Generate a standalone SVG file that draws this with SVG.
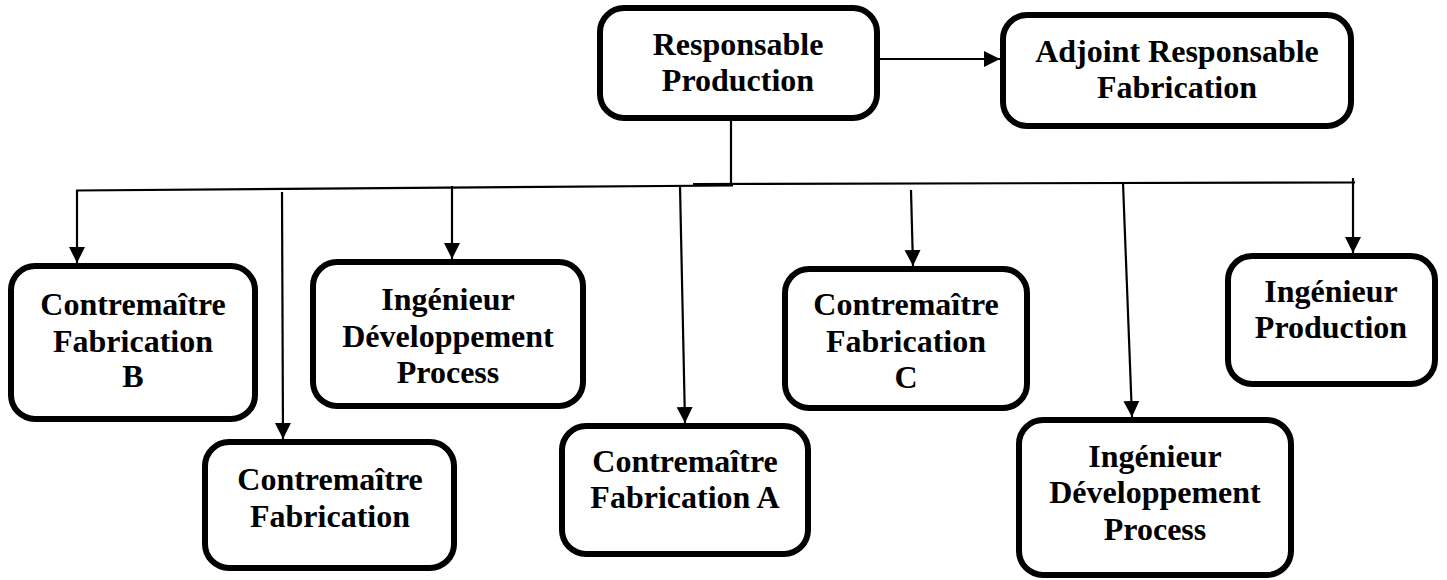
<svg xmlns="http://www.w3.org/2000/svg" width="1447" height="580" viewBox="0 0 1447 580">
  <style>
    .box { fill: #ffffff; stroke: #000000; stroke-width: 6; }
    .lbl { font-family: "Liberation Serif", "Times New Roman", serif; font-weight: bold; font-size: 32px; fill: #000000; text-anchor: middle; }
    .wire { fill: none; stroke: #000000; stroke-width: 2.2; }
    .arrow { fill: none; stroke: #000000; stroke-width: 2.2; marker-end: url(#head); }
  </style>
  <defs>
    <marker id="head" markerUnits="userSpaceOnUse" markerWidth="18" markerHeight="18" viewBox="0 0 18 18" refX="16" refY="9" orient="auto">
      <path d="M0,1 L16,9 L0,17 Z" fill="#000000"/>
    </marker>
  </defs>

  <rect width="1447" height="580" fill="#ffffff"/>

  <!-- connectors -->
  <g id="connectors">
    <line class="wire" x1="731" y1="120" x2="731" y2="185"/>
    <line class="wire" x1="76" y1="190.5" x2="733" y2="185.5"/>
    <line class="wire" x1="693" y1="184" x2="1355" y2="182.5"/>
    <line class="arrow" x1="880" y1="59" x2="1000" y2="59"/>
    <line class="arrow" x1="77" y1="190" x2="77" y2="263"/>
    <line class="arrow" x1="282" y1="192" x2="283" y2="439"/>
    <line class="arrow" x1="452" y1="186" x2="452" y2="259"/>
    <line class="arrow" x1="680" y1="186" x2="685" y2="423"/>
    <line class="arrow" x1="911" y1="190" x2="913" y2="266"/>
    <line class="arrow" x1="1123" y1="183" x2="1132" y2="417"/>
    <line class="arrow" x1="1353" y1="178" x2="1353" y2="253"/>
  </g>

  <g id="responsable-production">
    <rect class="box" x="600" y="8" width="277" height="110" rx="24"/>
    <text class="lbl" x="738" y="55">Responsable</text>
    <text class="lbl" x="738" y="91">Production</text>
  </g>

  <g id="adjoint-responsable-fabrication">
    <rect class="box" x="1003" y="15" width="348" height="111" rx="24"/>
    <text class="lbl" x="1177" y="62">Adjoint Responsable</text>
    <text class="lbl" x="1177" y="98">Fabrication</text>
  </g>

  <g id="contremaitre-fabrication-b">
    <rect class="box" x="11" y="266" width="244" height="153" rx="24"/>
    <text class="lbl" x="133" y="315">Contremaître</text>
    <text class="lbl" x="133" y="352">Fabrication</text>
    <text class="lbl" x="133" y="387">B</text>
  </g>

  <g id="contremaitre-fabrication">
    <rect class="box" x="205" y="442" width="249" height="126" rx="24"/>
    <text class="lbl" x="330" y="490">Contremaître</text>
    <text class="lbl" x="330" y="527">Fabrication</text>
  </g>

  <g id="ingenieur-developpement-process-1">
    <rect class="box" x="313" y="262" width="270" height="144" rx="24"/>
    <text class="lbl" x="448" y="310">Ingénieur</text>
    <text class="lbl" x="448" y="347">Développement</text>
    <text class="lbl" x="448" y="383">Process</text>
  </g>

  <g id="contremaitre-fabrication-a">
    <rect class="box" x="562" y="426" width="246" height="128" rx="24"/>
    <text class="lbl" x="685" y="472">Contremaître</text>
    <text class="lbl" x="685" y="508">Fabrication A</text>
  </g>

  <g id="contremaitre-fabrication-c">
    <rect class="box" x="785" y="269" width="242" height="139" rx="24"/>
    <text class="lbl" x="906" y="315">Contremaître</text>
    <text class="lbl" x="906" y="352">Fabrication</text>
    <text class="lbl" x="906" y="388">C</text>
  </g>

  <g id="ingenieur-developpement-process-2">
    <rect class="box" x="1019" y="420" width="272" height="155" rx="24"/>
    <text class="lbl" x="1155" y="467">Ingénieur</text>
    <text class="lbl" x="1155" y="503">Développement</text>
    <text class="lbl" x="1155" y="540">Process</text>
  </g>

  <g id="ingenieur-production">
    <rect class="box" x="1228" y="256" width="207" height="128" rx="24"/>
    <text class="lbl" x="1331" y="302">Ingénieur</text>
    <text class="lbl" x="1331" y="338">Production</text>
  </g>
</svg>
